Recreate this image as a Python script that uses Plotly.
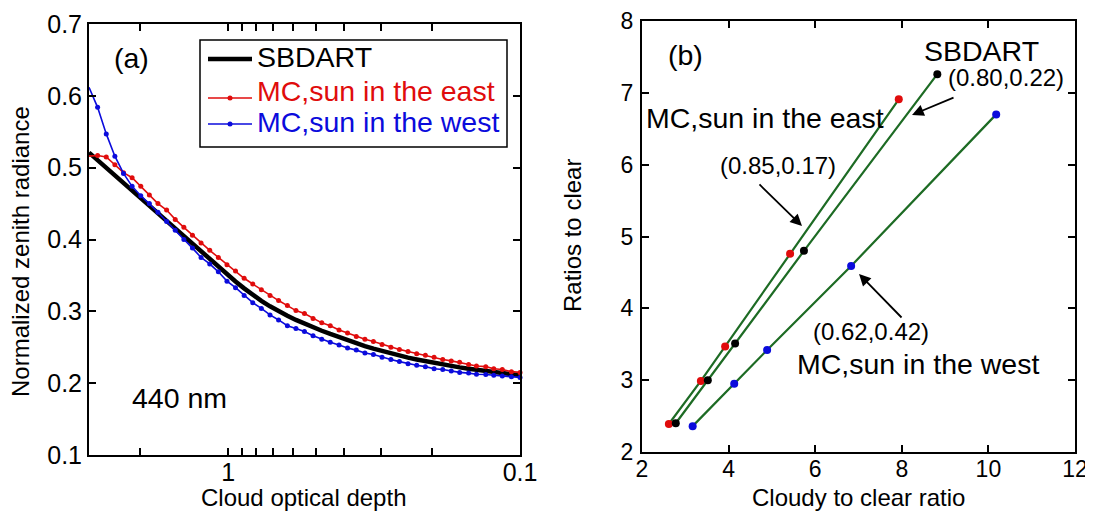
import plotly.graph_objects as go

# ---------------- data: panel (a) ----------------
tau = [3.00, 2.803, 2.618, 2.446, 2.285, 2.135, 1.994, 1.863, 1.741, 1.626,
       1.519, 1.419, 1.326, 1.239, 1.157, 1.081, 1.010, 0.944, 0.882, 0.824,
       0.770, 0.719, 0.672, 0.627, 0.586, 0.548, 0.512, 0.478, 0.447, 0.417,
       0.390, 0.364, 0.340, 0.318, 0.297, 0.277, 0.259, 0.242, 0.226, 0.211,
       0.197, 0.184, 0.172, 0.161, 0.150, 0.141, 0.131, 0.123, 0.115, 0.107,
       0.100]

sbdart = [0.521, 0.5104, 0.4998, 0.4892, 0.4786, 0.468, 0.4574, 0.4468, 0.4362, 0.4256,
          0.415, 0.4044, 0.393, 0.3825, 0.372, 0.3615, 0.351, 0.3415, 0.332, 0.323,
          0.3145, 0.307, 0.300, 0.294, 0.288, 0.2825, 0.2775, 0.273, 0.2685, 0.264,
          0.2595, 0.2555, 0.2515, 0.248, 0.2445, 0.2415, 0.2385, 0.2355, 0.233, 0.2305,
          0.228, 0.226, 0.224, 0.222, 0.2202, 0.2185, 0.217, 0.2155, 0.214, 0.2125,
          0.211]

mc_east = [0.516, 0.517, 0.515, 0.504, 0.493, 0.486, 0.474, 0.462, 0.450, 0.441,
           0.428, 0.417, 0.406, 0.395, 0.385, 0.375, 0.365, 0.356, 0.346, 0.338,
           0.330, 0.322, 0.315, 0.308, 0.301, 0.297, 0.290, 0.284, 0.280, 0.274,
           0.270, 0.265, 0.261, 0.258, 0.254, 0.250, 0.247, 0.244, 0.241, 0.239,
           0.236, 0.233, 0.231, 0.229, 0.226, 0.224, 0.223, 0.220, 0.219, 0.216,
           0.215]

mc_west = [0.612, 0.584, 0.547, 0.516, 0.492, 0.474, 0.461, 0.450, 0.438, 0.425,
           0.413, 0.400, 0.388, 0.375, 0.366, 0.355, 0.342, 0.333, 0.322, 0.312,
           0.304, 0.295, 0.288, 0.280, 0.276, 0.272, 0.266, 0.261, 0.257, 0.253,
           0.249, 0.246, 0.242, 0.240, 0.236, 0.233, 0.230, 0.227, 0.225, 0.223,
           0.220, 0.219, 0.217, 0.215, 0.214, 0.2125, 0.212, 0.211, 0.210, 0.209,
           0.208]

tau_tickvals = [2, 1, 0.9, 0.8, 0.7, 0.6, 0.5, 0.4, 0.3, 0.2, 0.1]
tau_ticktext = ["", "1", "", "", "", "", "", "", "", "", "0.1"]

legend_names = ["SBDART", "MC,sun in the east", "MC,sun in the west"]

# ---------------- data: panel (b) ----------------
east_x = [2.62, 3.36, 3.92, 5.42, 7.93]
east_y = [2.39, 2.99, 3.47, 4.76, 6.91]
sb_x = [2.78, 3.52, 4.15, 5.74, 8.82]
sb_y = [2.40, 3.00, 3.51, 4.80, 7.26]
west_x = [3.17, 4.13, 4.89, 6.83, 10.18]
west_y = [2.36, 2.95, 3.42, 4.59, 6.70]

RED = "#e00c0c"
BLUE = "#0b0bdc"
GREEN = "#1d6b24"
FONT = "Liberation Sans, Arial, sans-serif"

# page has an 8px body margin; work in page pixels and convert
OFF = 8
W, H = 1093 - OFF, 512 - OFF
def PX(x):
    return (x - OFF) / W
def PY(y):
    return 1 - (y - OFF) / H

fig = go.Figure()

# panel (a)
fig.add_trace(go.Scatter(x=tau, y=sbdart, mode="lines", name=legend_names[0],
                         line=dict(color="black", width=4.5),
                         xaxis="x", yaxis="y", cliponaxis=False))
fig.add_trace(go.Scatter(x=tau, y=mc_east, mode="lines+markers", name=legend_names[1],
                         line=dict(color=RED, width=1.6), marker=dict(color=RED, size=5),
                         xaxis="x", yaxis="y", cliponaxis=False))
fig.add_trace(go.Scatter(x=tau, y=mc_west, mode="lines+markers", name=legend_names[2],
                         line=dict(color=BLUE, width=1.6), marker=dict(color=BLUE, size=5),
                         xaxis="x", yaxis="y", cliponaxis=False))

# panel (b)
for xs, ys, col in [(east_x, east_y, RED), (sb_x, sb_y, "black"), (west_x, west_y, BLUE)]:
    fig.add_trace(go.Scatter(x=xs, y=ys, mode="lines+markers",
                             line=dict(color=GREEN, width=2.2),
                             marker=dict(color=col, size=8),
                             xaxis="x2", yaxis="y2", cliponaxis=False))

def axis_common(fs):
    return dict(showline=True, linecolor="black", linewidth=2, mirror="allticks",
                ticks="inside", ticklen=7, tickwidth=1.5, tickcolor="black",
                showgrid=False, zeroline=False, automargin=False,
                tickfont=dict(family=FONT, size=fs, color="black"))

fig.update_layout(
    template="none",
    width=W, height=H, autosize=False,
    margin=dict(l=0, r=0, t=0, b=0, pad=0),
    paper_bgcolor="white", plot_bgcolor="white",
    font=dict(family=FONT, color="black"),
    showlegend=False,
    xaxis=dict(domain=[PX(89), PX(520)], type="log", range=[0.47712, -1],
               tickmode="array", tickvals=tau_tickvals, ticktext=tau_ticktext,
               anchor="y", ticklabelstandoff=-6, **axis_common(25)),
    yaxis=dict(domain=[PY(455), PY(24)], range=[0.1, 0.7], tick0=0.1, dtick=0.1,
               tickformat=".1f", anchor="x", ticklabelstandoff=0, **axis_common(25)),
    xaxis2=dict(domain=[PX(642), PX(1075)], range=[2, 12], tick0=2, dtick=2,
                anchor="y2", ticklabelstandoff=-5, **axis_common(23)),
    yaxis2=dict(domain=[PY(452), PY(21)], range=[2, 8], tick0=2, dtick=1,
                anchor="x2", ticklabelstandoff=2, **axis_common(23)),
)

ann = []
shapes = []
def txt(x, y, s, size, xref="paper", yref="paper", angle=0, xanchor="center"):
    ann.append(dict(x=x, y=y, xref=xref, yref=yref, text=s, showarrow=False,
                    font=dict(family=FONT, size=size, color="black"),
                    xanchor=xanchor, yanchor="middle", textangle=angle))

# axis titles
txt(PX(20), PY(252), "Normalized zenith radiance", 24, angle=-90)
txt(PX(303.5), PY(497), "Cloud optical depth", 24)
txt(PX(573), PY(236), "Ratios to clear", 24, angle=-90)
txt(PX(858), PY(497), "Cloudy to clear ratio", 24)

# panel labels / texts
txt(PX(131.7), PY(58), "(a)", 28.5)
txt(PX(179.5), PY(398), "440 nm", 28.5)
txt(3.0, 7.52, "(b)", 28.5, "x2", "y2")
txt(4.85, 6.65, "MC,sun in the east", 28.5, "x2", "y2")
txt(5.13, 5.99, "(0.85,0.17)", 24, "x2", "y2")
txt(9.84, 7.58, "SBDART", 28.5, "x2", "y2")
txt(10.40, 7.22, "(0.80,0.22)", 24, "x2", "y2")
txt(7.28, 3.68, "(0.62,0.42)", 24, "x2", "y2")
txt(8.38, 3.23, "MC,sun in the west", 28.5, "x2", "y2")

# arrows (head at x,y; tail offset ax,ay in px)
for hx, hy, ax, ay in [(5.695, 5.146, -44, -43), (8.236, 6.692, 43, -18), (7.012, 4.478, 44, 45)]:
    ann.append(dict(x=hx, y=hy, xref="x2", yref="y2", text="", showarrow=True,
                    ax=ax, ay=ay, arrowhead=2, arrowsize=1.3, arrowwidth=1.8,
                    arrowcolor="black", standoff=0))

# legend of panel (a), drawn as a boxed key
shapes.append(dict(type="rect", xref="paper", yref="paper", x0=PX(200), x1=PX(507),
                   y0=PY(147), y1=PY(40), line=dict(color="black", width=1.5),
                   fillcolor="white", layer="above"))
leg_rows = [(59, "black", 4.5, False, 57.5), (98, RED, 1.6, True, 91), (124, BLUE, 1.6, True, 122.5)]
for (ly, col, lw, mk, ty), name in zip(leg_rows, legend_names):
    shapes.append(dict(type="line", xref="paper", yref="paper", x0=PX(208), x1=PX(252),
                       y0=PY(ly), y1=PY(ly), line=dict(color=col, width=lw), layer="above"))
    if mk:
        shapes.append(dict(type="circle", xref="paper", yref="paper",
                           x0=PX(227.5), x1=PX(232.5), y0=PY(ly + 2.5), y1=PY(ly - 2.5),
                           line=dict(color=col, width=0), fillcolor=col, layer="above"))
    ann.append(dict(x=PX(255), y=PY(ty), xref="paper", yref="paper", text=name,
                    showarrow=False, xanchor="left", yanchor="middle",
                    font=dict(family=FONT, size=28.5, color=col)))

fig.update_layout(annotations=ann, shapes=shapes)
fig.write_html("out.html")
